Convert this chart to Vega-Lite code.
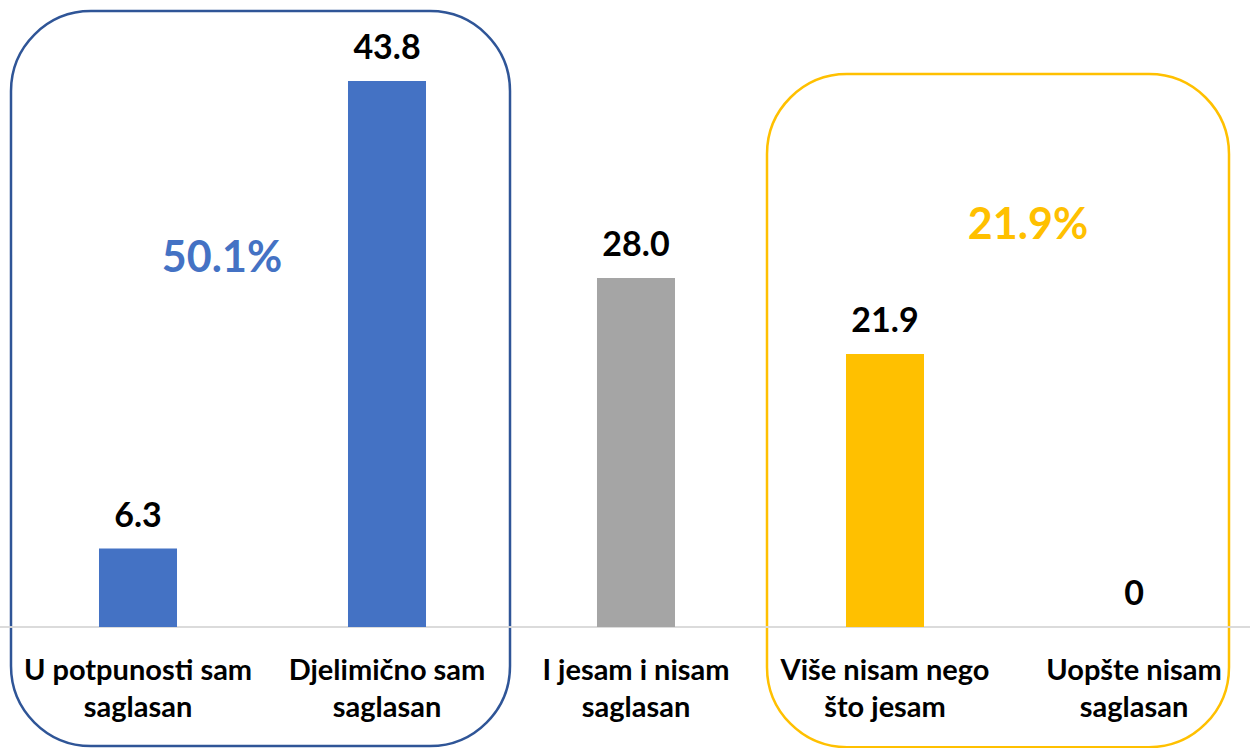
{
  "$schema": "https://vega.github.io/schema/vega-lite/v6.json",
  "width": 1250,
  "height": 748,
  "padding": 0,
  "autosize": {"type": "none"},
  "background": "white",
  "config": {"view": {"stroke": null}, "font": "Lato"},
  "datasets": {
    "bars": [
      {"category": "U potpunosti sam\nsaglasan", "value": 6.3, "shown": "6.3", "group": "agree"},
      {"category": "Djelimično sam\nsaglasan", "value": 43.8, "shown": "43.8", "group": "agree"},
      {"category": "I jesam i nisam\nsaglasan", "value": 28.0, "shown": "28.0", "group": "neutral"},
      {"category": "Više nisam nego\nšto jesam", "value": 21.9, "shown": "21.9", "group": "disagree"},
      {"category": "Uopšte nisam\nsaglasan", "value": 0, "shown": "0", "group": "disagree"}
    ],
    "boxes": [
      {"box": "agree", "x0": 0.044, "x1": 2.04, "top": 49.41, "bottom": -9.54},
      {"box": "disagree", "x0": 3.068, "x1": 4.916, "top": 44.36, "bottom": -9.63}
    ],
    "notes": [
      {"note": "50.1%", "group": "agree", "x": 0.888, "y": 28.47},
      {"note": "21.9%", "group": "disagree", "x": 4.112, "y": 31.12}
    ]
  },
  "resolve": {"scale": {"x": "independent"}},
  "layer": [
    {
      "layer": [
        {
          "data": {"name": "boxes"},
          "mark": {"type": "rect", "filled": false, "cornerRadius": 80, "strokeWidth": 2.5},
          "encoding": {
            "x": {"field": "x0", "type": "quantitative", "scale": {"domain": [0, 5], "nice": false, "zero": false}, "axis": null},
            "x2": {"field": "x1"},
            "y": {"field": "top", "type": "quantitative", "scale": {"domain": [-9.7, 50.3], "nice": false, "zero": false}, "axis": null},
            "y2": {"field": "bottom"},
            "stroke": {"field": "box", "type": "nominal", "scale": {"domain": ["agree", "disagree"], "range": ["#2F5597", "#FFC000"]}, "legend": null}
          }
        },
        {
          "data": {"name": "notes"},
          "mark": {"type": "text", "fontSize": 43, "fontWeight": "bold", "align": "center", "baseline": "alphabetic"},
          "encoding": {
            "x": {"field": "x", "type": "quantitative", "axis": null},
            "y": {"field": "y", "type": "quantitative", "axis": null},
            "text": {"field": "note"},
            "color": {"field": "group", "type": "nominal", "scale": {"domain": ["agree", "neutral", "disagree"], "range": ["#4472C4", "#A5A5A5", "#FFC000"]}, "legend": null}
          }
        },
        {
          "data": {"name": "notes"},
          "mark": {"type": "rule", "color": "#D9D9D9", "strokeWidth": 1.5},
          "encoding": {"y": {"datum": 0, "type": "quantitative"}}
        }
      ]
    },
    {
      "data": {"name": "bars"},
      "layer": [
        {
          "mark": {"type": "bar"},
          "encoding": {
            "x": {"field": "category", "type": "nominal", "sort": null, "axis": null,
                  "scale": {"type": "band", "paddingInner": 0.6867, "paddingOuter": 0.3534, "align": 0.5625, "round": false}},
            "y": {"field": "value", "type": "quantitative", "axis": null},
            "color": {"field": "group", "type": "nominal", "legend": null}
          }
        },
        {
          "mark": {"type": "text", "fontSize": 34, "fontWeight": "bold", "align": "center", "baseline": "alphabetic", "dy": -22, "color": "#000000"},
          "encoding": {
            "x": {"field": "category", "type": "nominal", "sort": null, "axis": null},
            "y": {"field": "value", "type": "quantitative"},
            "text": {"field": "shown"}
          }
        },
        {
          "mark": {"type": "text", "fontSize": 29, "fontWeight": "bold", "align": "center", "baseline": "alphabetic", "lineBreak": "\n", "lineHeight": 37, "color": "#000000"},
          "encoding": {
            "x": {"field": "category", "type": "nominal", "sort": null, "axis": null},
            "y": {"datum": -4.25, "type": "quantitative"},
            "text": {"field": "category"}
          }
        }
      ]
    }
  ]
}
